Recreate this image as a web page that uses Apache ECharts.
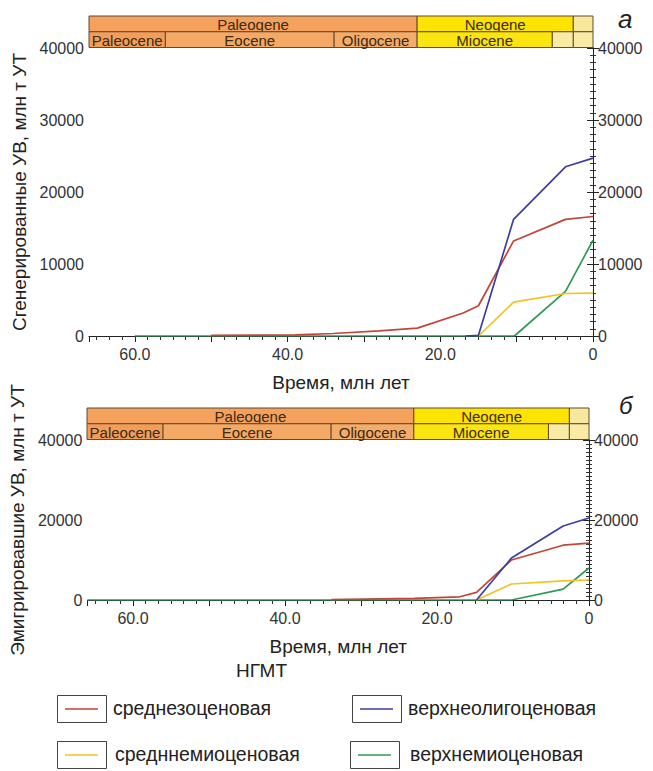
<!DOCTYPE html>
<html>
<head>
<meta charset="utf-8">
<script src="https://cdn.jsdelivr.net/npm/echarts@6/dist/echarts.min.js"></script>
<style>
  html, body { margin: 0; padding: 0; background: #fff; }
  #chart { width: 653px; height: 771px; }
</style>
</head>
<body>
<div id="chart"></div>
<script>
// названия НГМТ и цвета линий
var seriesNames = ['среднезоценовая', 'верхнеолигоценовая', 'средннемиоценовая', 'верхнемиоценовая'];
var seriesColors = ['#c2443a', '#3d3d9e', '#f3c31c', '#2f9a55'];

// а) сгенерированные УВ: [время, млн лет; млн т УТ]
var genRed = [[50, 100], [39, 150], [34, 350], [28, 700], [23, 1100], [17, 3200], [15, 4200], [10.4, 13200], [3.6, 16200], [0, 16600]];
var genBlue = [[16.7, 0], [15, 100], [10.4, 16200], [3.6, 23500], [0, 24700]];
var genYellow = [[15, 0], [10.4, 4700], [3.6, 5900], [0, 5950]];
var genGreen = [[60, 0], [10.3, 0], [3.6, 6200], [0, 13300]];

// б) эмигрировавшие УВ
var emRed = [[33.9, 100], [23, 400], [17, 800], [14.8, 1900], [10.2, 10000], [3.4, 13700], [0, 14200]];
var emBlue = [[14.8, 0], [10.2, 10500], [3.4, 18500], [0, 20500]];
var emYellow = [[14.8, 0], [10.2, 4000], [3.4, 4800], [0, 5000]];
var emGreen = [[66, 0], [10.2, 0], [3.4, 2700], [0, 8000]];

var xTickLabels = [60, 40, 20, 0];

// стратиграфическая шкала: [название, начало, конец, цвет]
var periods = [['Paleogene', 66, 23.03, '#f3a15c'], ['Neogene', 23.03, 2.58, '#fde300'], ['', 2.58, 0, '#f8e89c']];
var epochs = [['Paleocene', 66, 56, '#f29e5a'], ['Eocene', 56, 33.9, '#f4a964'], ['Oligocene', 33.9, 23.03, '#f4ac69'],
  ['Miocene', 23.03, 5.33, '#fbe510'], ['', 5.33, 2.58, '#f9eba4'], ['', 2.58, 0, '#f9eba4']];

var font = '"Liberation Sans", Arial, sans-serif';
var chart = echarts.init(document.getElementById('chart'), null, { renderer: 'svg' });

var cells = [];
periods.forEach(function (p) { cells.push(p.concat(1)); });
epochs.forEach(function (p) { cells.push(p.concat(0)); });

function renderCell(params, api) {
  var c = cells[params.dataIndex];
  var a = api.coord([api.value(0), api.value(2) + 1]);
  var b = api.coord([api.value(1), api.value(2)]);
  var x = Math.min(a[0], b[0]), w = Math.abs(b[0] - a[0]);
  return {
    type: 'group',
    children: [
      { type: 'rect', shape: { x: x, y: a[1], width: w, height: b[1] - a[1] },
        style: { fill: c[3], stroke: '#5e4a36', lineWidth: 1 } },
      { type: 'text', style: { text: c[0], x: x + w / 2, y: (a[1] + b[1]) / 2 + 1, align: 'center',
        verticalAlign: 'middle', fill: '#3b2a14', font: '15px ' + font } }
    ]
  };
}

function xPlot(grid) {
  return {
    gridIndex: grid, type: 'value', inverse: true, min: 0, max: 66, interval: 10,
    axisLine: { lineStyle: { color: '#222', width: 1 } },
    axisTick: { length: 6, lineStyle: { color: '#222' } },
    minorTick: { show: true, splitNumber: 6, length: 4, lineStyle: { color: '#333' } },
    splitLine: { show: false },
    axisLabel: {
      color: '#333', fontSize: 16, fontFamily: font, margin: 10,
      formatter: function (v) { return xTickLabels.indexOf(v) >= 0 ? (v === 0 ? '0' : v.toFixed(1)) : ''; }
    },
    name: 'Время, млн лет', nameLocation: 'middle', nameGap: 37,
    nameTextStyle: { color: '#222', fontSize: 19, fontFamily: font }
  };
}

function yPlot(grid, pos, interval, minor, name) {
  return {
    gridIndex: grid, type: 'value', position: pos, min: 0, max: 40000, interval: interval,
    axisLine: { show: true, lineStyle: { color: '#222', width: 1 } },
    axisTick: { show: true, length: 6, lineStyle: { color: '#222' } },
    minorTick: { show: true, splitNumber: minor, length: 3, lineStyle: { color: '#333' } },
    splitLine: { show: false },
    axisLabel: { color: '#333', fontSize: 16, fontFamily: font, margin: 5,
      formatter: function (v) { return String(v); } },
    name: name, nameLocation: 'middle', nameGap: 54,
    nameTextStyle: { color: '#222', fontSize: 19, fontFamily: font }
  };
}

function bandAxes(grid) {
  return [
    { gridIndex: grid, type: 'value', inverse: true, min: 0, max: 66, show: false },
    { gridIndex: grid, type: 'value', min: 0, max: 2, show: false }
  ];
}

function line(name, data, xi, yi, color) {
  return { name: name, type: 'line', data: data, xAxisIndex: xi, yAxisIndex: yi, symbol: 'none',
    lineStyle: { color: color, width: 1.7 }, itemStyle: { color: color }, animation: false };
}

var cellData = cells.map(function (c) { return [c[1], c[2], c[4]]; });

// легенда в рамках
var legendPos = [[57, 695, 113], [352, 695, 408], [57, 741, 115], [350, 741, 410]];
var legendGraphic = [];
seriesNames.forEach(function (n, i) {
  var p = legendPos[i];
  legendGraphic.push({ type: 'rect', left: p[0], top: p[1], shape: { width: 49, height: 27 },
    style: { fill: '#fff', stroke: '#444', lineWidth: 1 } });
  legendGraphic.push({ type: 'line', shape: { x1: p[0] + 8, y1: p[1] + 14, x2: p[0] + 41, y2: p[1] + 14 },
    style: { stroke: seriesColors[i], lineWidth: 1.7 } });
  legendGraphic.push({ type: 'text', left: p[2], top: p[1] + 3,
    style: { text: n, fill: '#222', font: '19.5px ' + font } });
});

var xb = bandAxes(0), xb2 = bandAxes(2);

chart.setOption({
  animation: false,
  grid: [
    { left: 89, top: 16, width: 504, height: 31.5 },
    { left: 89, top: 48, width: 504, height: 288 },
    { left: 87, top: 408, width: 502, height: 31.5 },
    { left: 87, top: 440, width: 502, height: 160 }
  ],
  xAxis: [xb[0], xPlot(1), xb2[0], xPlot(3)],
  yAxis: [
    xb[1],
    yPlot(1, 'left', 10000, 10, 'Сгенерированные УВ, млн т УТ'),
    yPlot(1, 'right', 10000, 10, ''),
    xb2[1],
    yPlot(3, 'left', 20000, 20, 'Эмигрировавшие УВ, млн т УТ'),
    yPlot(3, 'right', 20000, 20, '')
  ],
  series: [
    { type: 'custom', xAxisIndex: 0, yAxisIndex: 0, renderItem: renderCell, data: cellData, silent: true },
    { type: 'custom', xAxisIndex: 2, yAxisIndex: 3, renderItem: renderCell, data: cellData, silent: true },
    line(seriesNames[3], genGreen, 1, 1, seriesColors[3]),
    line(seriesNames[2], genYellow, 1, 1, seriesColors[2]),
    line(seriesNames[0], genRed, 1, 1, seriesColors[0]),
    line(seriesNames[1], genBlue, 1, 1, seriesColors[1]),
    line(seriesNames[3], emGreen, 3, 4, seriesColors[3]),
    line(seriesNames[2], emYellow, 3, 4, seriesColors[2]),
    line(seriesNames[0], emRed, 3, 4, seriesColors[0]),
    line(seriesNames[1], emBlue, 3, 4, seriesColors[1])
  ],
  graphic: [
    { type: 'text', left: 618, top: 6, style: { text: 'а', fill: '#222', font: 'italic 26px ' + font } },
    { type: 'text', left: 619, top: 393, style: { text: 'б', fill: '#222', font: 'italic 24px ' + font } },
    { type: 'text', left: 236, top: 661, style: { text: 'НГМТ', fill: '#222', font: '19px ' + font } }
  ].concat(legendGraphic)
});

window.addEventListener('resize', function () { chart.resize(); });
</script>
</body>
</html>
